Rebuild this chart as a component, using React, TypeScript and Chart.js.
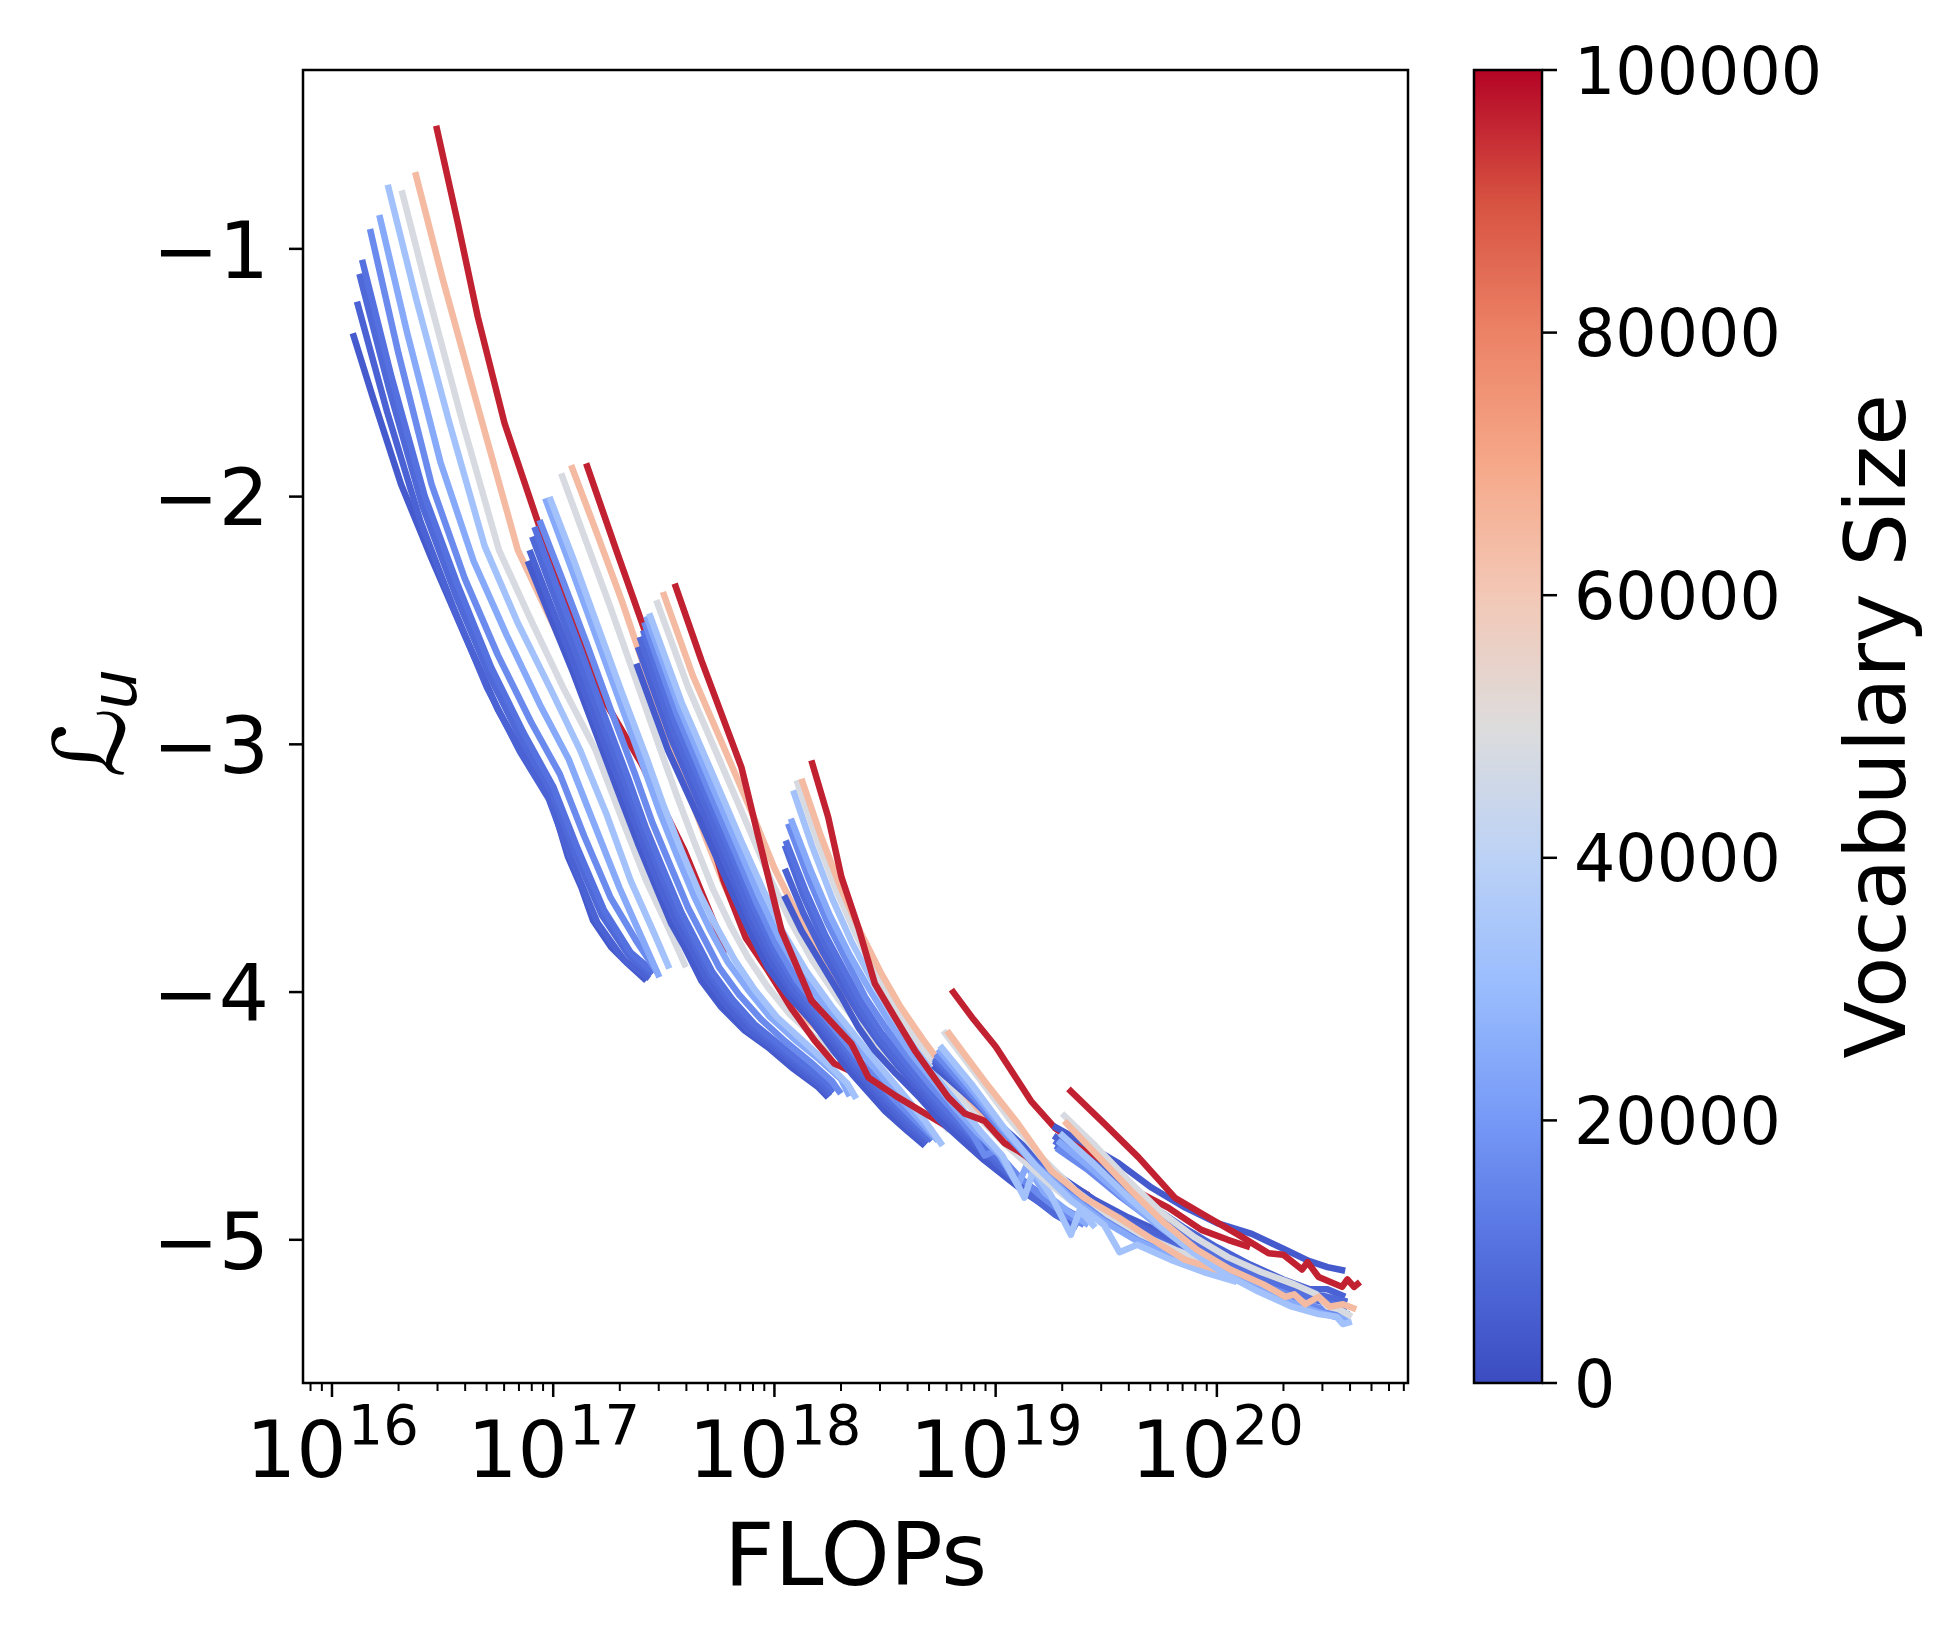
import React, { useEffect, useRef } from 'react';
import { Chart, registerables } from 'chart.js';

Chart.register(...registerables);

// ---------------- data ----------------
const VOCAB_SIZES = [4096, 6144, 8192, 10240, 16384, 24576, 32768, 48128, 64512, 96256];
const COLORBAR_MIN = 0;
const COLORBAR_MAX = 100000;
const COLORBAR_TICKS = [0, 20000, 40000, 60000, 80000, 100000];
const Y_TICKS = [-1, -2, -3, -4, -5];
const X_DECADES = [16, 17, 18, 19, 20];
const X_RANGE_LOG = [15.869, 20.864];
const Y_RANGE = [-5.578, -0.278];
const X_LABEL = 'FLOPs';
const CBAR_LABEL = 'Vocabulary Size';

// each row: one vocabulary size (same order as VOCAB_SIZES), pairs of [log10 FLOPs, L_u]
const GROUP1 = [
  [16.094, -1.341, 16.186, -1.603, 16.312, -1.95, 16.45, -2.25, 16.60, -2.56, 16.75, -2.86, 16.90, -3.10, 16.991, -3.226, 17.067, -3.455, 17.127, -3.577, 17.18, -3.711, 17.262, -3.819, 17.338, -3.886, 17.421, -3.954],
  [16.113, -1.213, 16.25, -1.66, 16.40, -2.10, 16.55, -2.45, 16.70, -2.77, 16.85, -3.03, 16.98, -3.22, 17.08, -3.46, 17.20, -3.72, 17.32, -3.87, 17.435, -3.945],
  [16.124, -1.101, 16.26, -1.57, 16.41, -2.04, 16.56, -2.40, 16.71, -2.72, 16.86, -2.99, 16.99, -3.19, 17.10, -3.44, 17.22, -3.69, 17.34, -3.85, 17.445, -3.93],
  [16.136, -1.044, 16.27, -1.52, 16.42, -2.00, 16.57, -2.36, 16.72, -2.69, 16.87, -2.96, 17.00, -3.17, 17.11, -3.42, 17.23, -3.67, 17.35, -3.84, 17.455, -3.92],
  [16.172, -0.92, 16.30, -1.42, 16.45, -1.95, 16.60, -2.33, 16.75, -2.64, 16.90, -2.91, 17.03, -3.12, 17.14, -3.37, 17.26, -3.62, 17.38, -3.80, 17.47, -3.92],
  [16.214, -0.863, 16.34, -1.34, 16.49, -1.86, 16.64, -2.26, 16.79, -2.56, 16.94, -2.84, 17.07, -3.06, 17.18, -3.31, 17.30, -3.58, 17.40, -3.78, 17.48, -3.94],
  [16.252, -0.741, 16.38, -1.20, 16.53, -1.70, 16.69, -2.20, 16.84, -2.51, 16.99, -2.78, 17.12, -3.02, 17.24, -3.28, 17.35, -3.55, 17.45, -3.75, 17.525, -3.905],
  [16.315, -0.764, 16.44, -1.20, 16.59, -1.70, 16.755, -2.216, 16.90, -2.50, 17.05, -2.78, 17.19, -3.02, 17.31, -3.30, 17.42, -3.55, 17.52, -3.74, 17.60, -3.90],
  [16.376, -0.69, 16.50, -1.12, 16.66, -1.64, 16.84, -2.216, 16.98, -2.48, 17.13, -2.76, 17.27, -3.00, 17.39, -3.27, 17.50, -3.52, 17.60, -3.72, 17.68, -3.91],
  [16.471, -0.503, 16.569, -0.896, 16.659, -1.274, 16.78, -1.704, 16.923, -2.082, 17.067, -2.459, 17.231, -2.822, 17.398, -3.077, 17.593, -3.428, 17.783, -3.84],
];

const GROUP2 = [
  [16.885, -2.26, 16.98, -2.47, 17.09, -2.71, 17.20, -2.97, 17.308, -3.226, 17.383, -3.40, 17.458, -3.563, 17.534, -3.724, 17.594, -3.819, 17.67, -3.954, 17.76, -4.061, 17.866, -4.156, 17.971, -4.223, 18.077, -4.304, 18.198, -4.384, 18.243, -4.425],
  [16.893, -2.216, 16.99, -2.44, 17.10, -2.69, 17.21, -2.95, 17.32, -3.20, 17.40, -3.39, 17.47, -3.55, 17.55, -3.71, 17.62, -3.82, 17.69, -3.94, 17.78, -4.05, 17.88, -4.15, 17.99, -4.22, 18.10, -4.30, 18.21, -4.38, 18.25, -4.42],
  [16.905, -2.162, 17.00, -2.39, 17.11, -2.65, 17.22, -2.91, 17.33, -3.17, 17.41, -3.36, 17.49, -3.53, 17.57, -3.70, 17.64, -3.81, 17.71, -3.93, 17.80, -4.04, 17.90, -4.14, 18.00, -4.21, 18.11, -4.29, 18.22, -4.37, 18.26, -4.41],
  [16.915, -2.122, 17.01, -2.35, 17.12, -2.61, 17.23, -2.88, 17.34, -3.14, 17.42, -3.34, 17.50, -3.51, 17.58, -3.68, 17.65, -3.80, 17.72, -3.92, 17.81, -4.03, 17.91, -4.13, 18.02, -4.21, 18.13, -4.29, 18.23, -4.36, 18.27, -4.40],
  [16.938, -2.095, 17.04, -2.33, 17.15, -2.59, 17.26, -2.86, 17.37, -3.12, 17.45, -3.32, 17.53, -3.49, 17.61, -3.66, 17.68, -3.78, 17.75, -3.90, 17.84, -4.01, 17.94, -4.11, 18.05, -4.20, 18.16, -4.28, 18.26, -4.36, 18.30, -4.41],
  [16.964, -2.007, 17.07, -2.26, 17.18, -2.53, 17.29, -2.80, 17.40, -3.07, 17.48, -3.27, 17.56, -3.45, 17.64, -3.62, 17.71, -3.75, 17.79, -3.88, 17.88, -3.99, 17.98, -4.10, 18.09, -4.19, 18.20, -4.27, 18.30, -4.35, 18.34, -4.42],
  [16.983, -2.001, 17.09, -2.25, 17.20, -2.52, 17.31, -2.79, 17.42, -3.05, 17.50, -3.25, 17.58, -3.43, 17.66, -3.60, 17.74, -3.74, 17.82, -3.87, 17.91, -3.99, 18.01, -4.10, 18.12, -4.19, 18.23, -4.28, 18.33, -4.37, 18.37, -4.43],
  [17.036, -1.906, 17.14, -2.16, 17.26, -2.45, 17.37, -2.73, 17.48, -3.01, 17.56, -3.21, 17.64, -3.40, 17.72, -3.58, 17.80, -3.73, 17.88, -3.86, 17.97, -3.98, 18.07, -4.09, 18.18, -4.18, 18.29, -4.26, 18.38, -4.33, 18.42, -4.36],
  [17.081, -1.873, 17.19, -2.13, 17.31, -2.42, 17.42, -2.71, 17.53, -2.99, 17.61, -3.19, 17.69, -3.38, 17.77, -3.56, 17.85, -3.72, 17.93, -3.86, 18.02, -3.98, 18.12, -4.09, 18.23, -4.18, 18.33, -4.25, 18.41, -4.31, 18.45, -4.34],
  [17.149, -1.866, 17.285, -2.216, 17.413, -2.539, 17.54, -2.88, 17.66, -3.22, 17.77, -3.55, 17.87, -3.78, 17.971, -3.913, 18.08, -4.07, 18.182, -4.196, 18.271, -4.289, 18.407, -4.345, 18.469, -4.37],
];

const GROUP3 = [
  [17.376, -2.674, 17.519, -3.024, 17.67, -3.32, 17.79, -3.56, 17.88, -3.74, 17.97, -3.90, 18.06, -4.01, 18.18, -4.13, 18.27, -4.24, 18.35, -4.33, 18.50, -4.48, 18.60, -4.56, 18.68, -4.62],
  [17.383, -2.607, 17.53, -2.97, 17.68, -3.28, 17.80, -3.52, 17.89, -3.71, 17.98, -3.87, 18.07, -3.99, 18.19, -4.12, 18.28, -4.22, 18.36, -4.31, 18.51, -4.46, 18.61, -4.55, 18.69, -4.61],
  [17.391, -2.566, 17.54, -2.94, 17.69, -3.25, 17.81, -3.50, 17.90, -3.69, 17.99, -3.85, 18.08, -3.98, 18.20, -4.11, 18.29, -4.21, 18.37, -4.30, 18.52, -4.45, 18.62, -4.54, 18.70, -4.60],
  [17.406, -2.539, 17.55, -2.91, 17.70, -3.22, 17.82, -3.47, 17.91, -3.66, 18.00, -3.83, 18.09, -3.96, 18.21, -4.10, 18.30, -4.20, 18.38, -4.29, 18.53, -4.44, 18.63, -4.53, 18.71, -4.60],
  [17.412, -2.507, 17.56, -2.88, 17.71, -3.20, 17.83, -3.45, 17.92, -3.64, 18.01, -3.81, 18.10, -3.95, 18.22, -4.09, 18.31, -4.19, 18.39, -4.28, 18.54, -4.43, 18.64, -4.52, 18.72, -4.59],
  [17.421, -2.483, 17.57, -2.85, 17.72, -3.17, 17.84, -3.42, 17.93, -3.61, 18.02, -3.78, 18.12, -3.93, 18.24, -4.07, 18.33, -4.17, 18.41, -4.26, 18.56, -4.42, 18.66, -4.52, 18.74, -4.60],
  [17.434, -2.471, 17.58, -2.83, 17.73, -3.14, 17.85, -3.39, 17.95, -3.59, 18.04, -3.76, 18.14, -3.91, 18.26, -4.06, 18.35, -4.16, 18.43, -4.25, 18.58, -4.41, 18.68, -4.52, 18.76, -4.62],
  [17.466, -2.418, 17.61, -2.77, 17.76, -3.08, 17.88, -3.33, 17.98, -3.54, 18.07, -3.71, 18.17, -3.87, 18.29, -4.03, 18.38, -4.13, 18.46, -4.22, 18.61, -4.38, 18.71, -4.48, 18.79, -4.56],
  [17.496, -2.385, 17.63, -2.72, 17.78, -3.03, 17.90, -3.28, 18.00, -3.50, 18.10, -3.68, 18.20, -3.85, 18.32, -4.01, 18.41, -4.12, 18.49, -4.21, 18.64, -4.37, 18.74, -4.46, 18.82, -4.54],
  [17.549, -2.351, 17.67, -2.661, 17.851, -3.093, 17.928, -3.376, 18.032, -3.752, 18.167, -4.034, 18.348, -4.208, 18.425, -4.345, 18.55, -4.42, 18.70, -4.50, 18.85, -4.58],
];

const GROUP4 = [
  [18.044, -3.61, 18.122, -3.752, 18.213, -3.887, 18.303, -4.02, 18.379, -4.142, 18.454, -4.236, 18.55, -4.33, 18.65, -4.42, 18.75, -4.52, 18.85, -4.60, 18.95, -4.68, 19.05, -4.75, 19.15, -4.82, 19.25, -4.88, 19.35, -4.93],
  [18.047, -3.502, 18.13, -3.68, 18.22, -3.84, 18.31, -3.98, 18.39, -4.10, 18.47, -4.20, 18.56, -4.30, 18.66, -4.40, 18.76, -4.50, 18.86, -4.58, 18.96, -4.66, 19.06, -4.74, 19.16, -4.81, 19.26, -4.87, 19.36, -4.92],
  [18.047, -3.408, 18.13, -3.61, 18.22, -3.79, 18.31, -3.94, 18.39, -4.07, 18.47, -4.18, 18.57, -4.29, 18.67, -4.39, 18.77, -4.49, 18.87, -4.57, 18.97, -4.66, 19.07, -4.74, 19.17, -4.83, 19.27, -4.90, 19.37, -4.95],
  [18.051, -3.388, 18.14, -3.59, 18.23, -3.77, 18.32, -3.92, 18.40, -4.05, 18.48, -4.16, 18.58, -4.27, 18.68, -4.38, 18.78, -4.48, 18.88, -4.57, 18.98, -4.65, 19.08, -4.73, 19.18, -4.80, 19.28, -4.86, 19.38, -4.91],
  [18.062, -3.32, 18.15, -3.53, 18.24, -3.72, 18.33, -3.88, 18.41, -4.02, 18.50, -4.14, 18.60, -4.26, 18.70, -4.37, 18.80, -4.47, 18.90, -4.58, 18.95, -4.66, 19.00, -4.64, 19.10, -4.74, 19.20, -4.82, 19.30, -4.89, 19.40, -4.94],
  [18.074, -3.30, 18.16, -3.50, 18.25, -3.69, 18.34, -3.85, 18.43, -3.99, 18.52, -4.12, 18.62, -4.25, 18.72, -4.36, 18.82, -4.47, 18.92, -4.57, 19.02, -4.66, 19.10, -4.78, 19.14, -4.70, 19.22, -4.81, 19.32, -4.88, 19.42, -4.94],
  [18.085, -3.186, 18.17, -3.41, 18.26, -3.62, 18.35, -3.80, 18.44, -3.95, 18.53, -4.09, 18.63, -4.22, 18.73, -4.34, 18.83, -4.45, 18.93, -4.56, 19.03, -4.66, 19.13, -4.83, 19.17, -4.72, 19.25, -4.82, 19.34, -4.98, 19.38, -4.88, 19.45, -4.95],
  [18.10, -3.145, 18.19, -3.38, 18.28, -3.59, 18.37, -3.77, 18.46, -3.93, 18.55, -4.07, 18.65, -4.20, 18.75, -4.32, 18.85, -4.43, 18.95, -4.53, 19.05, -4.62, 19.15, -4.70, 19.25, -4.78, 19.35, -4.85, 19.45, -4.90],
  [18.122, -3.139, 18.21, -3.37, 18.30, -3.58, 18.39, -3.76, 18.48, -3.92, 18.57, -4.06, 18.67, -4.19, 18.77, -4.31, 18.87, -4.42, 18.97, -4.52, 19.07, -4.61, 19.17, -4.69, 19.27, -4.77, 19.37, -4.84, 19.47, -4.90],
  [18.167, -3.065, 18.243, -3.294, 18.303, -3.536, 18.379, -3.738, 18.454, -3.966, 18.544, -4.101, 18.635, -4.236, 18.786, -4.425, 18.86, -4.49, 18.95, -4.52, 19.04, -4.61, 19.10, -4.64, 19.20, -4.70, 19.30, -4.76, 19.42, -4.82],
];

const GROUP5 = [
  [18.718, -4.297, 18.85, -4.40, 19.00, -4.52, 19.15, -4.64, 19.30, -4.75, 19.45, -4.84, 19.60, -4.91, 19.75, -4.97, 19.90, -5.02, 20.05, -5.06],
  [18.72, -4.28, 18.86, -4.40, 19.01, -4.53, 19.16, -4.66, 19.31, -4.77, 19.46, -4.86, 19.61, -4.93, 19.76, -4.99, 19.91, -5.04, 20.06, -5.08],
  [18.722, -4.27, 18.86, -4.40, 19.01, -4.54, 19.16, -4.67, 19.31, -4.78, 19.46, -4.87, 19.61, -4.95, 19.76, -5.01, 19.91, -5.06, 20.06, -5.10],
  [18.725, -4.263, 18.87, -4.40, 19.02, -4.55, 19.17, -4.68, 19.32, -4.80, 19.47, -4.89, 19.62, -4.96, 19.77, -5.02, 19.92, -5.07, 20.07, -5.11],
  [18.73, -4.25, 18.87, -4.39, 19.02, -4.55, 19.17, -4.69, 19.32, -4.81, 19.47, -4.90, 19.62, -4.98, 19.77, -5.04, 19.92, -5.09, 20.07, -5.13],
  [18.74, -4.23, 18.88, -4.38, 19.03, -4.55, 19.18, -4.70, 19.33, -4.82, 19.48, -4.92, 19.63, -5.00, 19.78, -5.06, 19.93, -5.11, 20.08, -5.15],
  [18.748, -4.216, 18.89, -4.37, 19.04, -4.55, 19.19, -4.71, 19.34, -4.84, 19.49, -4.94, 19.56, -5.05, 19.64, -5.02, 19.79, -5.08, 19.94, -5.13, 20.09, -5.17],
  [18.763, -4.156, 18.91, -4.33, 19.06, -4.51, 19.21, -4.67, 19.36, -4.80, 19.51, -4.90, 19.66, -4.98, 19.81, -5.04, 19.96, -5.09, 20.11, -5.13],
  [18.78, -4.156, 18.95, -4.36, 19.10, -4.53, 19.25, -4.72, 19.40, -4.83, 19.555, -4.91, 19.71, -5.00, 19.855, -5.08, 20.00, -5.12, 20.10, -5.14],
  [18.80, -3.99, 18.90, -4.11, 19.00, -4.22, 19.16, -4.44, 19.27, -4.55, 19.38, -4.62, 19.48, -4.69, 19.63, -4.80, 19.78, -4.87, 19.93, -4.96, 20.05, -5.00, 20.15, -5.03],
];

const GROUP6 = [
  [19.26, -4.54, 19.40, -4.61, 19.555, -4.69, 19.706, -4.79, 19.857, -4.87, 20.008, -4.935, 20.158, -4.976, 20.31, -5.04, 20.415, -5.085, 20.50, -5.11, 20.58, -5.125],
  [19.262, -4.58, 19.40, -4.66, 19.55, -4.76, 19.70, -4.86, 19.85, -4.95, 20.00, -5.03, 20.15, -5.10, 20.30, -5.16, 20.42, -5.20, 20.50, -5.20, 20.58, -5.23],
  [19.265, -4.60, 19.40, -4.68, 19.55, -4.78, 19.70, -4.88, 19.85, -4.97, 20.00, -5.05, 20.15, -5.12, 20.30, -5.18, 20.42, -5.22, 20.50, -5.23, 20.59, -5.25],
  [19.27, -4.62, 19.41, -4.70, 19.56, -4.80, 19.71, -4.90, 19.86, -4.99, 20.01, -5.07, 20.16, -5.14, 20.31, -5.20, 20.43, -5.24, 20.52, -5.26, 20.59, -5.27],
  [19.275, -4.63, 19.42, -4.72, 19.57, -4.83, 19.72, -4.93, 19.87, -5.02, 20.02, -5.10, 20.17, -5.17, 20.32, -5.22, 20.44, -5.27, 20.52, -5.29, 20.60, -5.30],
  [19.28, -4.60, 19.43, -4.71, 19.58, -4.83, 19.73, -4.94, 19.88, -5.04, 20.03, -5.12, 20.18, -5.19, 20.33, -5.25, 20.45, -5.29, 20.53, -5.31, 20.60, -5.32],
  [19.29, -4.57, 19.44, -4.69, 19.59, -4.82, 19.74, -4.94, 19.89, -5.05, 20.04, -5.14, 20.19, -5.21, 20.34, -5.27, 20.46, -5.30, 20.54, -5.31, 20.57, -5.34, 20.61, -5.33],
  [19.30, -4.49, 19.45, -4.62, 19.60, -4.76, 19.75, -4.89, 19.90, -4.99, 20.05, -5.07, 20.20, -5.13, 20.35, -5.18, 20.45, -5.22, 20.50, -5.27, 20.55, -5.28, 20.61, -5.31],
  [19.31, -4.52, 19.46, -4.66, 19.61, -4.80, 19.76, -4.93, 19.91, -5.04, 20.06, -5.12, 20.21, -5.18, 20.31, -5.23, 20.35, -5.22, 20.40, -5.26, 20.46, -5.23, 20.51, -5.27, 20.57, -5.26, 20.63, -5.28],
  [19.329, -4.391, 19.49, -4.53, 19.646, -4.667, 19.81, -4.83, 19.962, -4.91, 20.098, -4.98, 20.234, -5.054, 20.30, -5.06, 20.385, -5.12, 20.41, -5.09, 20.46, -5.15, 20.566, -5.19, 20.59, -5.16, 20.62, -5.19, 20.647, -5.17],
];

const GROUPS = [GROUP1, GROUP2, GROUP3, GROUP4, GROUP5, GROUP6];

// coolwarm colormap anchors: [t, r, g, b]
const COOLWARM = [
  [0.0, 59, 76, 192],
  [0.1, 84, 112, 223],
  [0.2, 118, 153, 247],
  [0.3, 153, 188, 254],
  [0.4, 188, 210, 246],
  [0.5, 221, 220, 220],
  [0.6, 243, 200, 182],
  [0.7, 246, 168, 137],
  [0.8, 236, 130, 102],
  [0.9, 215, 82, 65],
  [1.0, 180, 4, 38],
];

function coolwarm(t: number): string {
  const tt = Math.max(0, Math.min(1, t));
  for (let i = 0; i < COOLWARM.length - 1; i++) {
    const a = COOLWARM[i];
    const b = COOLWARM[i + 1];
    if (tt >= a[0] && tt <= b[0]) {
      const f = (tt - a[0]) / (b[0] - a[0]);
      const r = Math.round(a[1] + (b[1] - a[1]) * f);
      const g = Math.round(a[2] + (b[2] - a[2]) * f);
      const bl = Math.round(a[3] + (b[3] - a[3]) * f);
      return `rgb(${r},${g},${bl})`;
    }
  }
  return 'rgb(180,4,38)';
}

// ---------------- layout / style ----------------
const W = 1950;
const H = 1650;
const PLOT = { left: 303, top: 70, right: 1408, bottom: 1383 };
const CBAR = { left: 1474, right: 1542 };
const FONT = '"DejaVu Sans", "Liberation Sans", sans-serif';
const TICK_FONT = 79;
const SUP_FONT = 56;
const CBAR_FONT = 65;
const XLABEL_FONT = 88;
const CLABEL_FONT = 84;
const LINE_WIDTH = 6.5;

const overlayPlugin = {
  id: 'overlay',
  afterDraw(chart: any) {
    const ctx = chart.ctx as CanvasRenderingContext2D;
    const { left, right, top, bottom } = chart.chartArea;
    const xs = chart.scales.x;
    const ys = chart.scales.y;
    ctx.save();
    ctx.fillStyle = '#000';
    ctx.strokeStyle = '#000';

    const seg = (x1: number, y1: number, x2: number, y2: number, w: number) => {
      ctx.lineWidth = w;
      ctx.beginPath();
      ctx.moveTo(x1, y1);
      ctx.lineTo(x2, y2);
      ctx.stroke();
    };

    // frame
    ctx.lineWidth = 2.5;
    ctx.strokeRect(left, top, right - left, bottom - top);

    // y ticks + labels
    ctx.font = `${TICK_FONT}px ${FONT}`;
    ctx.textAlign = 'right';
    ctx.textBaseline = 'alphabetic';
    for (const v of Y_TICKS) {
      const py = ys.getPixelForValue(v);
      seg(left - 14, py, left, py, 2.5);
      const txt = (v < 0 ? '\u2212' : '') + Math.abs(v);
      ctx.fillText(txt, left - 34, py + TICK_FONT * 0.364);
    }

    // x minor ticks
    const minL = X_RANGE_LOG[0];
    const maxL = X_RANGE_LOG[1];
    for (let d = Math.floor(minL); d <= Math.ceil(maxL); d++) {
      for (let k = 2; k <= 9; k++) {
        const lv = d + Math.log10(k);
        if (lv < minL || lv > maxL) continue;
        const px = xs.getPixelForValue(k * Math.pow(10, d));
        seg(px, bottom, px, bottom + 8, 2);
      }
    }
    // x major ticks + labels
    for (const d of X_DECADES) {
      const px = xs.getPixelForValue(Math.pow(10, d));
      seg(px, bottom, px, bottom + 14, 2.5);
      ctx.textAlign = 'left';
      ctx.font = `${TICK_FONT}px ${FONT}`;
      const wb = ctx.measureText('10').width;
      ctx.font = `${SUP_FONT}px ${FONT}`;
      const we = ctx.measureText(String(d)).width;
      const x0 = px - (wb + we) / 2;
      const base = 1477;
      ctx.font = `${TICK_FONT}px ${FONT}`;
      ctx.fillText('10', x0, base);
      ctx.font = `${SUP_FONT}px ${FONT}`;
      ctx.fillText(String(d), x0 + wb + 1, base - 33);
    }

    // x label
    ctx.font = `${XLABEL_FONT}px ${FONT}`;
    ctx.textAlign = 'center';
    ctx.fillText(X_LABEL, (left + right) / 2, 1585);

    // y label: script L with subscript u, rotated
    ctx.save();
    ctx.translate(124, (top + bottom) / 2);
    ctx.rotate(-Math.PI / 2);
    ctx.textAlign = 'left';
    const LFONT = `italic 98px "DejaVu Serif", "DejaVu Sans", serif`;
    const UFONT = `italic 64px ${FONT}`;
    ctx.font = LFONT;
    const wL = ctx.measureText('\u2112').width;
    ctx.font = UFONT;
    const wu = ctx.measureText('u').width;
    const sx = -(wL + wu) / 2 + 4;
    ctx.font = LFONT;
    ctx.fillText('\u2112', sx, 0);
    ctx.font = UFONT;
    ctx.fillText('u', sx + wL - 2, 12);
    ctx.restore();

    // colorbar
    const grad = ctx.createLinearGradient(0, bottom, 0, top);
    for (const a of COOLWARM) grad.addColorStop(a[0], `rgb(${a[1]},${a[2]},${a[3]})`);
    ctx.fillStyle = grad;
    ctx.fillRect(CBAR.left, top, CBAR.right - CBAR.left, bottom - top);
    ctx.lineWidth = 2.5;
    ctx.strokeStyle = '#000';
    ctx.strokeRect(CBAR.left, top, CBAR.right - CBAR.left, bottom - top);
    ctx.fillStyle = '#000';
    ctx.font = `${CBAR_FONT}px ${FONT}`;
    ctx.textAlign = 'left';
    for (const t of COLORBAR_TICKS) {
      const py = bottom - ((t - COLORBAR_MIN) / (COLORBAR_MAX - COLORBAR_MIN)) * (bottom - top);
      seg(CBAR.right, py, CBAR.right + 15, py, 2.5);
      ctx.fillText(String(t), CBAR.right + 32, py + CBAR_FONT * 0.364);
    }
    // colorbar label
    ctx.save();
    ctx.translate(1905, (top + bottom) / 2);
    ctx.rotate(-Math.PI / 2);
    ctx.font = `${CLABEL_FONT}px ${FONT}`;
    ctx.textAlign = 'center';
    ctx.fillText(CBAR_LABEL, 0, 0);
    ctx.restore();

    ctx.restore();
  },
};

export default function App() {
  const ref = useRef<HTMLCanvasElement>(null);
  useEffect(() => {
    if (!ref.current) return;
    const datasets: any[] = [];
    let k = 0;
    GROUPS.forEach((group) => {
      group.forEach((row, vi) => {
        const pts: { x: number; y: number }[] = [];
        for (let i = 0; i < row.length; i += 2) pts.push({ x: Math.pow(10, row[i]), y: row[i + 1] });
        datasets.push({
          data: pts,
          borderColor: coolwarm(VOCAB_SIZES[vi] / COLORBAR_MAX),
          backgroundColor: coolwarm(VOCAB_SIZES[vi] / COLORBAR_MAX),
          borderWidth: LINE_WIDTH,
          showLine: true,
          pointRadius: 0,
          pointHoverRadius: 0,
          tension: 0,
          fill: false,
          borderJoinStyle: 'round',
          borderCapStyle: 'butt',
          order: -k,
        });
        k++;
      });
    });
    const chart = new Chart(ref.current, {
      type: 'scatter',
      data: { datasets },
      options: {
        animation: false,
        responsive: false,
        devicePixelRatio: 1,
        events: [],
        layout: {
          padding: { left: PLOT.left, top: PLOT.top, right: W - PLOT.right, bottom: H - PLOT.bottom },
        },
        plugins: { legend: { display: false }, tooltip: { enabled: false } },
        scales: {
          x: {
            type: 'logarithmic',
            display: false,
            min: Math.pow(10, X_RANGE_LOG[0]),
            max: Math.pow(10, X_RANGE_LOG[1]),
          },
          y: { type: 'linear', display: false, min: Y_RANGE[0], max: Y_RANGE[1] },
        },
      },
      plugins: [overlayPlugin],
    } as any);
    return () => chart.destroy();
  }, []);
  return (
    <div style={{ position: 'absolute', left: 0, top: 0, width: W, height: H, background: '#fff' }}>
      <canvas ref={ref} width={W} height={H} style={{ width: W, height: H, display: 'block' }} />
    </div>
  );
}
